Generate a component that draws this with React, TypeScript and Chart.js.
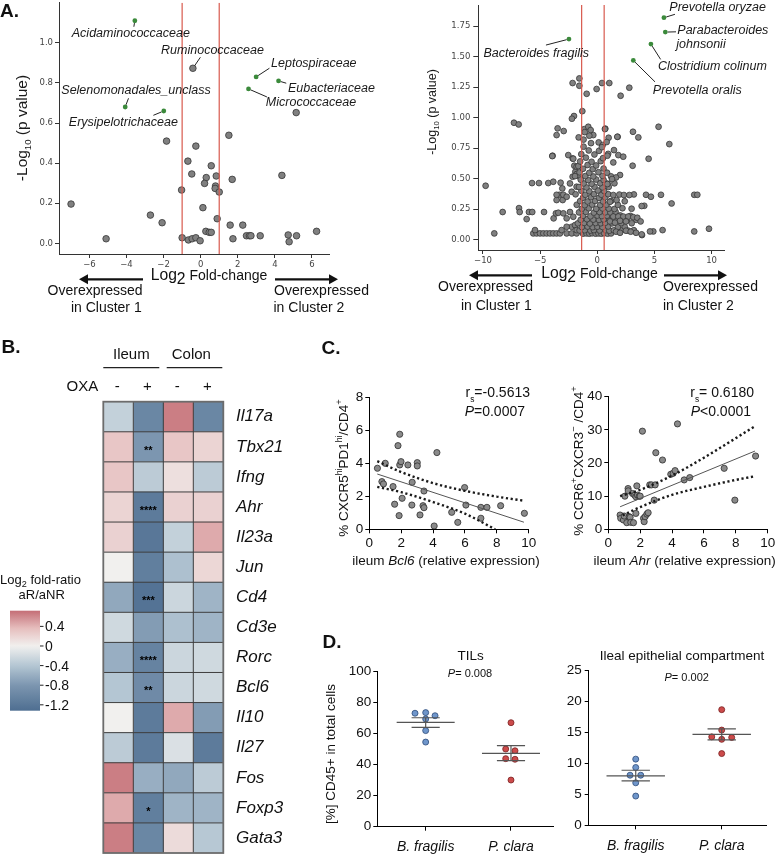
import React, { useEffect, useRef } from 'react';
import { Chart, registerables } from 'chart.js';

Chart.register(...registerables);

const SANS = '"Liberation Sans", Arial, Helvetica, sans-serif';
const DJV = '"DejaVu Sans", Verdana, sans-serif';
const INK = '#111111';
const RED = '#d85a4e';
const GREEN = '#3b8a3b';
const GRAYPT = '#808080';

// ================= Panel A, left volcano =================
const vlGray = [
  [5.15, 0.652], [1.52, 0.539], [-1.84, 0.51], [-0.26, 0.485], [-0.69, 0.41], [0.57, 0.387], [-0.48, 0.346],
  [4.38, 0.339], [0.30, 0.328], [0.84, 0.336], [1.70, 0.319], [0.21, 0.299], [0.80, 0.286], [0.78, 0.274],
  [-1.03, 0.266], [1.00, 0.256], [-6.99, 0.196], [0.12, 0.178], [-2.71, 0.141], [0.89, 0.123], [-2.08, 0.103],
  [1.59, 0.091], [2.27, 0.091], [0.28, 0.06], [0.46, 0.055], [0.57, 0.055], [6.25, 0.06], [2.47, 0.038],
  [2.63, 0.038], [2.71, 0.038], [3.21, 0.038], [4.72, 0.042], [5.17, 0.038], [-5.10, 0.023], [-1.00, 0.028],
  [-0.66, 0.017], [-0.46, 0.023], [-0.26, 0.028], [-0.03, 0.013], [1.74, 0.023], [4.77, 0.008],
];
const vlLabName = ['Acidaminococcaceae', 'Ruminococcaceae', 'Leptospiraceae', 'Eubacteriaceae', 'Micrococcaceae', 'Selenomonadales_unclass', 'Erysipelotrichaceae'];
const vlLabX = [-3.55, -0.42, 2.99, 4.20, 2.58, -4.07, -1.99];
const vlLabY = [1.11, 0.873, 0.83, 0.81, 0.77, 0.68, 0.66];
const vlLabSig = [true, false, true, true, true, true, true];
const vlThresholds = [-1, 1];
const vlXTicks = [-6, -4, -2, 0, 2, 4, 6];
const vlYTicks = [0, 0.2, 0.4, 0.6, 0.8, 1.0];

// ================= Panel A, right volcano =================
const vrGray = [
  // sparse points and outliers
  [-9.77, 0.442], [-9.01, 0.052], [-8.28, 0.227], [-7.29, 0.958], [-6.88, 0.944], [-6.85, 0.259], [-6.79, 0.227],
  [-6.18, 0.169], [-5.98, 0.227], [-5.69, 0.227], [-5.71, 0.464], [-5.10, 0.464], [-4.66, 0.227], [-4.29, 0.464],
  [-3.85, 0.475], [-3.91, 0.688], [-3.47, 0.912], [-3.56, 0.857], [-2.94, 0.890], [-2.54, 0.693], [-2.16, 0.666],
  [-2.16, 1.283], [-2.04, 1.013], [-2.22, 0.991], [-1.57, 1.321], [-1.57, 1.261], [-1.31, 1.053], [-0.93, 1.195],
  [-0.06, 1.234], [0.41, 1.283], [1.05, 1.283], [2.80, 1.245], [2.04, 1.179], [5.36, 0.925], [6.30, 0.783],
  [4.49, 0.663], [3.12, 0.884], [3.59, 0.838], [3.09, 0.606], [5.57, 0.368], [6.50, 0.297], [8.48, 0.368],
  [8.75, 0.368], [9.77, 0.090], [8.48, 0.068], [5.71, 0.079], [4.90, 0.068], [4.61, 0.068], [3.91, 0.038],
  [4.11, 0.278], [4.26, 0.368], [4.69, 0.352],
  // bottom row, left side
  [-5.60, 0.052], [-5.31, 0.052], [-5.01, 0.052], [-4.72, 0.052], [-4.43, 0.052], [-4.14, 0.052], [-3.85, 0.052],
  [-3.56, 0.052], [-3.27, 0.052], [-2.68, 0.052], [-2.24, 0.052], [-1.81, 0.052], [-5.45, 0.079],
  // left of the centre
  [-3.82, 0.175], [-3.62, 0.216], [-3.41, 0.221], [-3.56, 0.325], [-3.32, 0.368], [-3.03, 0.325], [-2.97, 0.368],
  [-3.56, 0.368], [-3.21, 0.467], [-3.06, 0.420], [-2.68, 0.352], [-2.39, 0.461], [-2.24, 0.393], [-2.16, 0.516],
  [-2.01, 0.606], [-1.92, 0.557], [-1.81, 0.434], [-2.97, 0.216], [-2.68, 0.175], [-2.39, 0.227], [-2.10, 0.188],
  [-2.24, 0.106], [-2.68, 0.106], [-1.95, 0.120], [-1.81, 0.079], [-3.12, 0.079],
  // upper centre
  [-1.14, 0.906], [-0.79, 0.925], [-0.58, 0.898], [-1.63, 0.838], [-1.20, 0.82], [-0.35, 0.857], [0.12, 0.797],
  [0.47, 0.775], [0.70, 0.91], [0.99, 0.835], [1.78, 0.843], [-3.94, 0.685], [-2.10, 0.663], [-1.81, 0.598],
  [-1.81, 0.538], [-1.66, 0.603], [-1.52, 0.516], [-1.95, 0.521],
  // dense centre
  [-1.25, 0.05], [-0.95, 0.052], [-0.7, 0.05], [-0.45, 0.053], [-0.15, 0.05], [0.1, 0.052], [0.35, 0.05], [0.6, 0.053], [0.9, 0.05], [1.2, 0.052],
  [-1.55, 0.076], [-1.1, 0.078], [-0.6, 0.075], [-0.3, 0.079], [0.2, 0.076], [0.75, 0.078], [1.05, 0.074], [1.45, 0.077], [2.15, 0.079], [2.7, 0.075], [3.2, 0.078],
  [-1.35, 0.104], [-0.85, 0.108], [-0.4, 0.103], [0.0, 0.107], [0.45, 0.105], [0.95, 0.109], [1.8, 0.104], [2.4, 0.106],
  [-1.7, 0.134], [-1.15, 0.138], [-0.65, 0.133], [-0.15, 0.137], [0.3, 0.135], [0.7, 0.139], [1.3, 0.134], [2.1, 0.136],
  [-1.45, 0.163], [-0.9, 0.168], [-0.35, 0.165], [0.15, 0.162], [0.55, 0.167], [1.05, 0.164], [1.7, 0.169], [2.6, 0.166], [3.4, 0.163],
  [-1.25, 0.196], [-0.6, 0.192], [0.0, 0.198], [0.4, 0.194], [0.85, 0.197], [1.35, 0.193], [2.0, 0.199], [2.9, 0.195],
  [-1.6, 0.224], [-1.0, 0.228], [-0.3, 0.222], [0.2, 0.227], [0.7, 0.225], [1.15, 0.223], [1.6, 0.229],
  [-1.35, 0.254], [-0.75, 0.258], [-0.1, 0.253], [0.45, 0.257], [1.0, 0.255], [1.5, 0.252], [2.2, 0.258], [3.0, 0.254],
  [-1.8, 0.286], [-1.1, 0.283], [-0.45, 0.288], [0.25, 0.284], [0.8, 0.287], [1.8, 0.285],
  [-1.5, 0.316], [-0.85, 0.313], [-0.2, 0.318], [0.5, 0.314], [1.2, 0.317], [2.4, 0.315],
  [-1.25, 0.344], [-0.55, 0.348], [0.15, 0.343], [0.7, 0.347],
  [-1.9, 0.372], [-1.05, 0.368], [-0.3, 0.374], [0.35, 0.369], [0.95, 0.373], [3.2, 0.371],
  [-1.4, 0.401], [-0.7, 0.397], [0.05, 0.403], [0.6, 0.399],
  [-1.6, 0.432], [-0.95, 0.428], [-0.25, 0.434], [0.45, 0.429], [1.0, 0.433],
  [-1.2, 0.461], [-0.5, 0.458], [0.25, 0.463], [0.9, 0.459], [1.5, 0.462],
  [-1.45, 0.492], [-0.8, 0.488], [-0.1, 0.493], [0.55, 0.489],
  [-1.05, 0.521], [-0.35, 0.518], [0.45, 0.523], [1.2, 0.519],
  [-1.55, 0.552], [-0.7, 0.548], [0.1, 0.553], [0.85, 0.549],
  [-1.25, 0.581], [-0.4, 0.578], [0.55, 0.583],
  [-0.85, 0.612], [-0.1, 0.608],
  [-1.5, 0.641], [-0.5, 0.638], [0.3, 0.643],
  [-1.0, 0.672], [0.5, 0.668],
  [-1.4, 0.701], [-0.25, 0.698], [0.95, 0.703],
  [-0.75, 0.731], [0.15, 0.728],
  [-1.2, 0.762], [0.4, 0.758],
  [-0.55, 0.791], [-0.7, 0.852], [-1.1, 0.881],
  // right of the centre
  [0.67, 0.906], [0.82, 0.80], [1.75, 0.843], [1.46, 0.734], [1.84, 0.693], [2.27, 0.68], [0.88, 0.688],
  [1.40, 0.633], [1.99, 0.53], [1.64, 0.51], [1.29, 0.497], [0.88, 0.456], [1.40, 0.366], [1.93, 0.37],
  [2.33, 0.366], [2.80, 0.366], [1.69, 0.325], [1.11, 0.311], [1.40, 0.19], [1.84, 0.19], [2.28, 0.19],
  [2.71, 0.19], [3.15, 0.185], [3.50, 0.18], [1.11, 0.15], [1.55, 0.14], [1.99, 0.155], [2.51, 0.15],
  [3.01, 0.135], [3.79, 0.15], [1.64, 0.066], [1.99, 0.057], [2.51, 0.074], [2.92, 0.066], [3.39, 0.057],
  [3.88, 0.044], [3.88, 0.276],
];
const vrLabName = ['Prevotella oryzae', 'Parabacteroides johnsonii', 'Bacteroides fragilis', 'Clostridium colinum', 'Prevotella oralis'];
const vrLabX = [5.83, 5.95, -2.48, 4.69, 3.15];
const vrLabY = [1.818, 1.700, 1.643, 1.602, 1.468];
const vrThresholds = [-1.37, 0.6];
const vrXTicks = [-10, -5, 0, 5, 10];
const vrYTicks = [0, 0.25, 0.5, 0.75, 1.0, 1.25, 1.5, 1.75];

// ================= Panel B, heatmap =================
const genes = ['Il17a', 'Tbx21', 'Ifng', 'Ahr', 'Il23a', 'Jun', 'Cd4', 'Cd3e', 'Rorc', 'Bcl6', 'Il10', 'Il27', 'Fos', 'Foxp3', 'Gata3'];
const tissues = ['Ileum', 'Colon'];
const oxa = ['-', '+', '-', '+'];
// columns: Ileum OXA-, Ileum OXA+, Colon OXA-, Colon OXA+
const hmValues = [
  [-0.3, -1.0, 0.65, -1.0],
  [0.3, -0.8, 0.3, 0.2],
  [0.3, -0.35, 0.12, -0.35],
  [0.2, -1.15, 0.22, 0.22],
  [0.22, -1.2, -0.3, 0.45],
  [0.0, -1.1, -0.45, 0.18],
  [-0.65, -1.25, -0.25, -0.55],
  [-0.22, -0.75, -0.45, -0.55],
  [-0.6, -1.05, -0.25, -0.22],
  [-0.4, -0.95, -0.25, -0.22],
  [0.0, -1.15, 0.45, -0.75],
  [-0.35, -1.15, -0.15, -1.15],
  [0.65, -0.6, -0.65, -0.35],
  [0.45, -1.1, -0.55, -0.55],
  [0.65, -1.0, 0.15, -0.38],
];
const hmStarsIleumOxa = ['', '**', '', '****', '', '', '***', '', '****', '**', '', '', '', '*', ''];
const cbTicks = [0.4, 0, -0.4, -0.8, -1.2];
const cbRange = [-1.32, 0.72];

// ================= Panel C =================
const bcl6X = [0.51, 0.79, 0.89, 1.00, 1.49, 1.59, 1.80, 1.91, 1.91, 1.99, 2.06, 1.87, 2.42, 2.69, 2.67, 3.01, 3.01, 3.18, 3.37, 3.43, 3.43, 4.24, 4.07, 5.17, 5.55, 5.98, 6.06, 7.0, 7.38, 7.0, 8.24, 9.73];
const tfhY = [3.70, 2.89, 2.75, 4.00, 2.59, 1.52, 5.07, 5.76, 3.90, 4.10, 1.88, 0.83, 3.90, 2.85, 1.47, 4.04, 3.84, 0.87, 1.43, 1.31, 2.32, 4.65, 0.20, 1.03, 0.42, 2.53, 1.47, 1.33, 1.33, 0.67, 1.43, 0.97];
const bcl6FitX = [0.5, 9.7];
const bcl6FitY = [3.35, 0.43];
const bcl6UpX = [0.5, 2, 4, 6, 8, 9.7];
const bcl6UpY = [4.13, 3.47, 2.80, 2.33, 1.98, 1.73];
const bcl6LoX = [0.5, 2, 4, 6, 7.9];
const bcl6LoY = [2.57, 2.25, 1.65, 0.95, 0.0];

const ahrX = [0.74, 0.78, 0.95, 1.04, 1.00, 1.16, 1.24, 1.25, 1.31, 1.37, 1.41, 1.52, 1.58, 1.66, 1.73, 1.73, 1.79, 1.83, 1.94, 2.00, 2.14, 2.21, 2.25, 2.31, 2.42, 2.50, 2.60, 2.71, 2.88, 2.94, 2.98, 3.40, 3.92, 4.07, 4.19, 4.34, 4.76, 5.11, 7.27, 7.94, 9.24];
const th17Y = [4.3, 3.3, 2.8, 10.0, 4.0, 2.0, 12.3, 11.6, 3.8, 3.6, 2.1, 10.8, 2.0, 10.3, 9.8, 4.8, 13.1, 10.3, 10.0, 10.0, 29.6, 3.3, 2.3, 3.8, 4.6, 5.0, 13.4, 13.4, 8.8, 13.4, 23.1, 20.9, 16.6, 16.9, 17.7, 31.8, 14.9, 15.6, 18.4, 8.8, 22.1];
const ahrFitX = [0.74, 9.2];
const ahrFitY = [6.8, 23.6];
const ahrUpX = [0.74, 2, 4, 6, 8, 9.2];
const ahrUpY = [10.0, 11.9, 16.2, 21.6, 27.5, 31.1];
const ahrLoX = [0.9, 2, 4, 6, 8, 9.2];
const ahrLoY = [4.2, 6.7, 10.4, 12.8, 14.9, 16.0];

// ================= Panel D =================
const dCats = ['B. fragilis', 'P. clara'];
const tilBf = [73.2, 73.6, 71.6, 69.5, 62.0, 54.6];
const tilPc = [67.1, 50.1, 49.0, 43.9, 43.5, 30.1];
const tilMean = [67.3, 47.3];
const tilSemHi = [70.3, 52.3];
const tilSemLo = [64.1, 42.6];
const iecBf = [10.7, 9.35, 8.1, 8.1, 6.87, 4.73];
const iecPc = [18.7, 15.4, 14.3, 14.2, 13.9, 11.6];
const iecMean = [8.0, 14.7];
const iecSemHi = [8.9, 15.6];
const iecSemLo = [7.2, 13.8];

// ================= layout helpers =================
const R_VL = { x: 0, y: 0, w: 390, h: 320 };
const A_VL = { l: 59, t: 2.7, r: 329, b: 254 };
const R_VR = { x: 390, y: 0, w: 386, h: 320 };
const A_VR = { l: 478.3, t: 5, r: 724.3, b: 250 };
const R_HM = { x: 0, y: 320, w: 300, h: 535 };
const A_HM = { l: 103.3, t: 401.7, r: 223.3, b: 853 };
const R_SL = { x: 300, y: 330, w: 245, h: 240 };
const A_SL = { l: 369.3, t: 397.3, r: 528.7, b: 529.3 };
const R_SR = { x: 545, y: 330, w: 231, h: 240 };
const A_SR = { l: 608.3, t: 396.7, r: 767.7, b: 529.3 };
const R_DL = { x: 300, y: 620, w: 265, h: 235 };
const A_DL = { l: 377.3, t: 671.7, r: 553.3, b: 826.7 };
const R_DR = { x: 565, y: 620, w: 211, h: 235 };
const A_DR = { l: 588.7, t: 670.7, r: 766, b: 825.3 };

function pad(c: any, a: any, yW: number, xH: number, yRight = false) {
  return {
    left: a.l - c.x - (yRight ? 0 : yW),
    right: c.x + c.w - a.r - (yRight ? yW : 0),
    top: a.t - c.y,
    bottom: c.y + c.h - a.b - xH,
  };
}
const fixSize = (size: number) => (s: any) => {
  if (s.isHorizontal()) s.height = size; else s.width = size;
  s.paddingTop = 0; s.paddingBottom = 0; s.paddingLeft = 0; s.paddingRight = 0;
};

function baseOptions(padding: any) {
  return {
    responsive: false,
    maintainAspectRatio: false,
    animation: false,
    events: [],
    layout: { padding, autoPadding: false },
    plugins: { legend: { display: false }, tooltip: { enabled: false }, title: { display: false } },
  };
}

function axis(o: any) {
  return {
    type: 'linear',
    position: o.position,
    min: o.min,
    max: o.max,
    afterBuildTicks: (s: any) => { s.ticks = o.ticks.map((v: number) => ({ value: v })); },
    afterFit: fixSize(o.size),
    grid: { drawOnChartArea: false, drawTicks: true, tickLength: o.tickLen, color: o.line || '#000', lineWidth: 1 },
    border: { display: true, color: o.line || '#000', width: 1 },
    ticks: {
      autoSkip: false, maxRotation: 0, minRotation: 0,
      padding: o.pad,
      color: o.color || INK,
      font: o.font,
      callback: o.fmt || ((v: number) => String(v)),
    },
  };
}

type Seg = { t: string; it?: boolean; b?: boolean; sz?: number; dy?: number };
function rich(ctx: any, segs: Seg[], x: number, y: number, size: number, o: any = {}) {
  const fam = o.family || SANS;
  const font = (s: Seg) => `${s.it ? 'italic ' : ''}${s.b ? 'bold ' : ''}${(size * (s.sz || 1)).toFixed(2)}px ${fam}`;
  ctx.save();
  ctx.translate(x, y);
  if (o.rot) ctx.rotate(-Math.PI / 2);
  let total = 0;
  const widths = segs.map((s) => { ctx.font = font(s); const w = ctx.measureText(s.t).width; total += w; return w; });
  let cx = o.align === 'center' ? -total / 2 : o.align === 'right' ? -total : 0;
  ctx.fillStyle = o.color || INK;
  ctx.textAlign = 'left';
  ctx.textBaseline = 'alphabetic';
  const base = size * 0.36;
  segs.forEach((s, i) => { ctx.font = font(s); ctx.fillText(s.t, cx, base + (s.dy || 0) * size); cx += widths[i]; });
  ctx.restore();
}

function arrow(ctx: any, x1: number, x2: number, y: number) {
  const dir = Math.sign(x2 - x1);
  const hl = 9, hw = 5;
  ctx.save();
  ctx.strokeStyle = INK; ctx.fillStyle = INK; ctx.lineWidth = 2.3;
  ctx.beginPath(); ctx.moveTo(x1, y); ctx.lineTo(x2 - dir * hl, y); ctx.stroke();
  ctx.beginPath(); ctx.moveTo(x2, y); ctx.lineTo(x2 - dir * hl, y - hw); ctx.lineTo(x2 - dir * hl, y + hw); ctx.closePath(); ctx.fill();
  ctx.restore();
}

function leader(ctx: any, px: number, py: number, lx: number, ly: number, r: number) {
  const dx = lx - px, dy = ly - py; const d = Math.hypot(dx, dy) || 1;
  ctx.save(); ctx.strokeStyle = '#222'; ctx.lineWidth = 1;
  ctx.beginPath(); ctx.moveTo(px + (dx / d) * r, py + (dy / d) * r); ctx.lineTo(lx, ly); ctx.stroke();
  ctx.restore();
}

const pts = (xs: number[], ys: number[]) => xs.map((x, i) => ({ x, y: ys[i] }));
const pairs = (arr: number[][]) => arr.map(([x, y]) => ({ x, y }));

const volTickFont = { family: DJV, size: 8.5 };
const fmtMinus = (v: number) => (v < 0 ? '\u2212' + Math.abs(v) : String(v));

// ================= label layout (pixel offsets from the labelled point) =================
const vlLabLayout = [
  { tdx: -4, tdy: 12, ldx: -1, ldy: 6 },
  { tdx: 19.6, tdy: -18.3, ldx: 7.5, ldy: -11 },
  { tdx: 57.7, tdy: -14.3, ldx: 13.3, ldy: -8.7 },
  { tdx: 52.9, tdy: 6.7, ldx: 7.7, ldy: 2.3 },
  { tdx: 62.5, tdy: 12.3, ldx: 18.4, ldy: 8 },
  { tdx: 10.8, tdy: -17.7, ldx: 3.3, ldy: -8.7 },
  { tdx: -40.4, tdy: 10.3, ldx: -10.4, ldy: 4.3 },
];
const vrLabLayout = [
  { tdx: 53.7, tdy: -11.7, ldx: 11, ldy: -3.4 },
  { tdx: 12, tdy: -2.7, ldx: 10.7, ldy: -0.3, split: true },
  { tdx: -32.7, tdy: 13.3, ldx: -23, ldy: 6 },
  { tdx: 61.5, tdy: 21.7, ldx: 9.7, ldy: 15.3 },
  { tdx: 64, tdy: 29, ldx: 21.7, ldy: 21.4 },
];

// ================= chart builders =================
function buildVolcano(side: 'L' | 'R') {
  const L = side === 'L';
  const R = L ? R_VL : R_VR;
  const A = L ? A_VL : A_VR;
  const xr = L ? [-7.64, 6.92] : [-10.41, 11.11];
  const yr = L ? [-0.053, 1.2] : [-0.084, 1.922];
  const names = L ? vlLabName : vrLabName;
  const lx = L ? vlLabX : vrLabX;
  const ly = L ? vlLabY : vrLabY;
  const sig = L ? vlLabSig : names.map(() => true);
  const lay: any[] = L ? vlLabLayout : vrLabLayout;
  const thr = L ? vlThresholds : vrThresholds;
  const grayR = L ? 3.3 : 2.9;
  const sigIdx = names.map((_, i) => i).filter((i) => sig[i]);
  const nonSigIdx = names.map((_, i) => i).filter((i) => !sig[i]);
  const gray = [...pairs(L ? vlGray : vrGray), ...nonSigIdx.map((i) => ({ x: lx[i], y: ly[i] }))];

  const ann = {
    id: 'volAnn' + side,
    afterDraw(chart: any) {
      const ctx = chart.ctx; const xs = chart.scales.x; const ys = chart.scales.y;
      ctx.save();
      ctx.translate(-R.x, -R.y);
      names.forEach((name, i) => {
        const px = xs.getPixelForValue(lx[i]) + R.x;
        const py = ys.getPixelForValue(ly[i]) + R.y;
        const g = lay[i];
        leader(ctx, px, py, px + g.ldx, py + g.ldy, sig[i] ? 2.4 : grayR);
        if (g.split) {
          const parts = name.split(' ');
          rich(ctx, [{ t: parts[0], it: true }], px + g.tdx, py + g.tdy, 12.5, { align: 'left', color: '#1a1a1a' });
          rich(ctx, [{ t: parts[1], it: true }], px + g.tdx - 1, py + g.tdy + 14, 12.5, { align: 'left', color: '#1a1a1a' });
        } else {
          rich(ctx, [{ t: name, it: true }], px + g.tdx, py + g.tdy, 12.5, { align: 'center', color: '#1a1a1a' });
        }
      });
      if (L) {
        rich(ctx, [{ t: 'A.', b: true }], 0, 10, 19, { align: 'left' });
        rich(ctx, [{ t: '-Log' }, { t: '10', sz: 0.62, dy: 0.22 }, { t: ' (p value)' }], 21.7, 128, 15.5, { align: 'center', rot: true, color: '#1a1a1a' });
        rich(ctx, [{ t: 'Log', sz: 1.12 }, { t: '2', sz: 1.12, dy: 0.3 }, { t: ' Fold-change' }], 209, 275, 14, { align: 'center' });
        arrow(ctx, 143, 79, 279.3);
        arrow(ctx, 275, 338, 279.3);
        rich(ctx, [{ t: 'Overexpressed' }], 142.5, 290, 14, { align: 'right' });
        rich(ctx, [{ t: 'in Cluster 1' }], 141.7, 306.7, 14, { align: 'right' });
        rich(ctx, [{ t: 'Overexpressed' }], 274, 290, 14, { align: 'left' });
        rich(ctx, [{ t: 'in Cluster 2' }], 273.5, 306.7, 14, { align: 'left' });
      } else {
        rich(ctx, [{ t: '-Log' }, { t: '10', sz: 0.62, dy: 0.22 }, { t: ' (p value)' }], 431.7, 112, 12.5, { align: 'center', rot: true, color: '#1a1a1a' });
        rich(ctx, [{ t: 'Log', sz: 1.12 }, { t: '2', sz: 1.12, dy: 0.3 }, { t: ' Fold-change' }], 599.5, 273, 14, { align: 'center' });
        arrow(ctx, 532, 469, 275.3);
        arrow(ctx, 664, 727, 275.3);
        rich(ctx, [{ t: 'Overexpressed' }], 533, 286, 14, { align: 'right' });
        rich(ctx, [{ t: 'in Cluster 1' }], 531.7, 304.7, 14, { align: 'right' });
        rich(ctx, [{ t: 'Overexpressed' }], 663, 286, 14, { align: 'left' });
        rich(ctx, [{ t: 'in Cluster 2' }], 663, 304.7, 14, { align: 'left' });
      }
      ctx.restore();
    },
  };

  return {
    type: 'scatter',
    data: {
      datasets: [
        ...thr.map((t) => ({ data: [{ x: t, y: yr[0] }, { x: t, y: yr[1] }], showLine: true, borderColor: RED, borderWidth: 1.2, pointRadius: 0 })),
        { data: sigIdx.map((i) => ({ x: lx[i], y: ly[i] })), pointRadius: 2.4, pointBackgroundColor: GREEN, pointBorderColor: GREEN, pointBorderWidth: 0 },
        { data: gray, pointRadius: grayR, pointBackgroundColor: GRAYPT, pointBorderColor: '#363636', pointBorderWidth: 0.8 },
      ],
    },
    options: {
      ...baseOptions(pad(R, A, 45, 30)),
      scales: {
        x: axis({ position: 'bottom', min: xr[0], max: xr[1], ticks: L ? vlXTicks : vrXTicks, size: 30, tickLen: 4, pad: 1.5, font: volTickFont, color: '#444', line: '#333', fmt: fmtMinus }),
        y: axis({ position: 'left', min: yr[0], max: yr[1], ticks: L ? vlYTicks : vrYTicks, size: 45, tickLen: L ? 4 : 5, pad: L ? 2 : 3, font: volTickFont, color: '#444', line: '#333', fmt: (v: number) => v.toFixed(L ? 1 : 2) }),
      },
    },
    plugins: [ann],
  };
}

const heatStops: [number, number[]][] = [
  [-1.32, [78, 110, 145]],
  [-0.8, [124, 150, 176]],
  [-0.4, [180, 198, 211]],
  [0, [241, 240, 238]],
  [0.36, [230, 190, 190]],
  [0.72, [196, 110, 118]],
];
function heatColor(v: number) {
  const c = Math.max(heatStops[0][0], Math.min(heatStops[heatStops.length - 1][0], v));
  for (let i = 0; i < heatStops.length - 1; i++) {
    const [a, ca] = heatStops[i]; const [b, cb] = heatStops[i + 1];
    if (c >= a && c <= b) {
      const f = (c - a) / (b - a);
      const m = ca.map((q, k) => Math.round(q + (cb[k] - q) * f));
      return `rgb(${m[0]},${m[1]},${m[2]})`;
    }
  }
  return 'rgb(241,240,238)';
}

function buildHeatmap() {
  const R = R_HM;
  const ann = {
    id: 'hmAnn',
    afterDraw(chart: any) {
      const ctx = chart.ctx; const xs = chart.scales.x; const ys = chart.scales.y;
      const X = (v: number) => xs.getPixelForValue(v) + R.x;
      const top = chart.chartArea.top + R.y, bottom = chart.chartArea.bottom + R.y;
      const rowH = (bottom - top) / genes.length;
      ctx.save();
      ctx.translate(-R.x, -R.y);
      ctx.strokeStyle = '#3e3e3e'; ctx.lineWidth = 1;
      ctx.beginPath();
      for (let c = 1; c < 4; c++) { ctx.moveTo(X(c), top); ctx.lineTo(X(c), bottom); }
      for (let r = 1; r < genes.length; r++) {
        const y = ys.getPixelForValue(r) + R.y - rowH / 2;
        ctx.moveTo(X(0), y); ctx.lineTo(X(4), y);
      }
      ctx.stroke();
      ctx.strokeStyle = '#6c6c6c'; ctx.lineWidth = 1.8;
      ctx.strokeRect(X(0), top, X(4) - X(0), bottom - top);
      hmStarsIleumOxa.forEach((s, r) => {
        if (!s) return;
        const y = ys.getPixelForValue(r) + R.y;
        rich(ctx, [{ t: s, b: true }], (X(1) + X(2)) / 2, y + 3, 11, { align: 'center', color: '#000' });
      });
      tissues.forEach((t, k) => {
        const a = X(2 * k), b = X(2 * k + 2);
        rich(ctx, [{ t }], (a + b) / 2 - 2, 353.3, 15, { align: 'center' });
        ctx.strokeStyle = '#222'; ctx.lineWidth = 1.3;
        ctx.beginPath();
        ctx.moveTo(a + (k === 0 ? 0 : 3.4), 367.7); ctx.lineTo(b - (k === 0 ? 4 : 1), 367.7);
        ctx.stroke();
      });
      rich(ctx, [{ t: 'OXA' }], 98.3, 386, 15, { align: 'right' });
      oxa.forEach((s, c) => rich(ctx, [{ t: s }], (X(c) + X(c + 1)) / 2 - 1, 386, 15, { align: 'center' }));
      const cbL = 10, cbR = 40, cbT = 610.7, cbB = 710.7;
      const vy = (v: number) => cbT + ((cbRange[1] - v) / (cbRange[1] - cbRange[0])) * (cbB - cbT);
      const grad = ctx.createLinearGradient(0, cbT, 0, cbB);
      for (let k = 0; k <= 40; k++) {
        const v = cbRange[1] - (k / 40) * (cbRange[1] - cbRange[0]);
        grad.addColorStop(k / 40, heatColor(v));
      }
      ctx.fillStyle = grad;
      ctx.fillRect(cbL, cbT, cbR - cbL, cbB - cbT);
      ctx.strokeStyle = '#222'; ctx.lineWidth = 1;
      cbTicks.forEach((v) => {
        const y = vy(v);
        ctx.beginPath(); ctx.moveTo(cbR, y); ctx.lineTo(cbR + 3.5, y); ctx.stroke();
        rich(ctx, [{ t: v === 0 ? '0' : String(v) }], cbR + 5, y, 14, { align: 'left' });
      });
      rich(ctx, [{ t: 'Log' }, { t: '2', sz: 0.7, dy: 0.25 }, { t: ' fold-ratio' }], 40.5, 579.3, 13, { align: 'center' });
      rich(ctx, [{ t: 'aR/aNR' }], 41.7, 594.3, 13, { align: 'center' });
      rich(ctx, [{ t: 'B.', b: true }], 1.5, 346.5, 19, { align: 'left' });
      ctx.restore();
    },
  };
  return {
    type: 'bar',
    data: {
      labels: genes,
      datasets: [0, 1, 2, 3].map((c) => ({
        data: genes.map(() => [c, c + 1]),
        backgroundColor: genes.map((_, r) => heatColor(hmValues[r][c])),
        borderWidth: 0,
        barPercentage: 1,
        categoryPercentage: 1,
        grouped: false,
      })),
    },
    options: {
      ...baseOptions(pad(R, A_HM, 70, 0, true)),
      indexAxis: 'y',
      scales: {
        x: { type: 'linear', min: 0, max: 4, display: false },
        y: {
          type: 'category', position: 'right',
          afterFit: fixSize(70),
          grid: { display: false, drawTicks: false },
          border: { display: false },
          ticks: { padding: 12.7, color: INK, font: { family: SANS, size: 17, style: 'italic' }, autoSkip: false },
        },
      },
    },
    plugins: [ann],
  };
}

const cFont = { family: SANS, size: 13.5 };

function buildCorr(side: 'L' | 'R') {
  const L = side === 'L';
  const R = L ? R_SL : R_SR;
  const A = L ? A_SL : A_SR;
  const ann = {
    id: 'corrAnn' + side,
    afterDraw(chart: any) {
      const ctx = chart.ctx;
      ctx.save();
      ctx.translate(-R.x, -R.y);
      if (L) {
        rich(ctx, [{ t: 'C.', b: true }], 321.5, 346.7, 19, { align: 'left' });
        rich(ctx, [{ t: 'r' }, { t: 's', sz: 0.6, dy: 0.3 }, { t: '=-0.5613' }], 530, 392.3, 14, { align: 'right' });
        rich(ctx, [{ t: 'P', it: true }, { t: '=0.0007' }], 525, 411, 14, { align: 'right' });
        rich(ctx, [{ t: 'ileum ' }, { t: 'Bcl6', it: true }, { t: ' (relative expression)' }], 446, 560, 13.5, { align: 'center' });
        rich(ctx, [{ t: '% CXCR5' }, { t: 'hi', sz: 0.65, dy: -0.42 }, { t: 'PD1' }, { t: 'hi', sz: 0.65, dy: -0.42 }, { t: '/CD4' }, { t: '+', sz: 0.7, dy: -0.45 }], 343.3, 468, 13.5, { align: 'center', rot: true });
      } else {
        rich(ctx, [{ t: 'r' }, { t: 's', sz: 0.6, dy: 0.3 }, { t: '= 0.6180' }], 754, 392.3, 14, { align: 'right' });
        rich(ctx, [{ t: 'P', it: true }, { t: '<0.0001' }], 751, 411, 14, { align: 'right' });
        rich(ctx, [{ t: 'ileum ' }, { t: 'Ahr', it: true }, { t: ' (relative expression)' }], 684.7, 560, 13.5, { align: 'center' });
        rich(ctx, [{ t: '% CCR6' }, { t: '+', sz: 0.7, dy: -0.45 }, { t: 'CXCR3' }, { t: '\u2212', sz: 0.7, dy: -0.45 }, { t: ' /CD4' }, { t: '+', sz: 0.7, dy: -0.45 }], 578, 461, 13.5, { align: 'center', rot: true });
      }
      ctx.restore();
    },
  };
  const fitX = L ? bcl6FitX : ahrFitX, fitY = L ? bcl6FitY : ahrFitY;
  const upX = L ? bcl6UpX : ahrUpX, upY = L ? bcl6UpY : ahrUpY;
  const loX = L ? bcl6LoX : ahrLoX, loY = L ? bcl6LoY : ahrLoY;
  const dotted = { showLine: true, borderColor: '#1a1a1a', borderWidth: 2.4, borderDash: [2.2, 2.6], pointRadius: 0, cubicInterpolationMode: 'monotone' };
  return {
    type: 'scatter',
    data: {
      datasets: [
        { data: pts(fitX, fitY), showLine: true, borderColor: '#555', borderWidth: 1, pointRadius: 0 },
        { ...dotted, data: pts(upX, upY) },
        { ...dotted, data: pts(loX, loY) },
        { data: L ? pts(bcl6X, tfhY) : pts(ahrX, th17Y), pointRadius: 3.1, pointBackgroundColor: '#8a8a8a', pointBorderColor: '#2e2e2e', pointBorderWidth: 0.8 },
      ],
    },
    options: {
      ...baseOptions(pad(R, A, 30, 25)),
      scales: {
        x: axis({ position: 'bottom', min: 0, max: 10, ticks: [0, 2, 4, 6, 8, 10], size: 25, tickLen: 4, pad: 2, font: cFont }),
        y: axis({ position: 'left', min: 0, max: L ? 8 : 40, ticks: L ? [0, 2, 4, 6, 8] : [0, 10, 20, 30, 40], size: 30, tickLen: 4, pad: 2, font: cFont }),
      },
    },
    plugins: [ann],
  };
}

function buildDots(side: 'L' | 'R') {
  const L = side === 'L';
  const R = L ? R_DL : R_DR;
  const A = L ? A_DL : A_DR;
  const xr = L ? [-0.567, 1.496] : [-0.547, 1.515];
  const bf = L ? tilBf : iecBf, pc = L ? tilPc : iecPc;
  const bfJit = L ? [-0.125, 0, 0.11, 0, 0, 0] : [0, 0, -0.066, 0.058, 0, 0];
  const pcJit = L ? [0, -0.062, 0.047, -0.062, 0.047, 0] : [0, 0, -0.116, 0.116, 0, 0];
  const mean = L ? tilMean : iecMean, hi = L ? tilSemHi : iecSemHi, lo = L ? tilSemLo : iecSemLo;
  const line = { showLine: true, borderColor: '#555', borderWidth: 1.2, pointRadius: 0 };
  const lineSets: any[] = [];
  [0, 1].forEach((c) => {
    lineSets.push({ ...line, data: [{ x: c - 0.34, y: mean[c] }, { x: c + 0.34, y: mean[c] }] });
    lineSets.push({ ...line, data: [{ x: c - 0.165, y: hi[c] }, { x: c + 0.165, y: hi[c] }] });
    lineSets.push({ ...line, data: [{ x: c - 0.165, y: lo[c] }, { x: c + 0.165, y: lo[c] }] });
    lineSets.push({ ...line, data: [{ x: c, y: lo[c] }, { x: c, y: hi[c] }] });
  });
  const ann = {
    id: 'dotAnn' + side,
    afterDraw(chart: any) {
      const ctx = chart.ctx;
      ctx.save();
      ctx.translate(-R.x, -R.y);
      if (L) {
        rich(ctx, [{ t: 'D.', b: true }], 322.5, 640.7, 19, { align: 'left' });
        rich(ctx, [{ t: 'TILs' }], 470.7, 655, 13.5, { align: 'center' });
        rich(ctx, [{ t: 'P', it: true }, { t: '= 0.008' }], 470, 673.3, 11, { align: 'center' });
        rich(ctx, [{ t: '[%] CD45+ in total cells' }], 330, 754, 13.5, { align: 'center', rot: true });
      } else {
        rich(ctx, [{ t: 'Ileal epithelial compartment' }], 682, 655, 13.5, { align: 'center' });
        rich(ctx, [{ t: 'P', it: true }, { t: '= 0.002' }], 686.7, 676.7, 11, { align: 'center' });
      }
      ctx.restore();
    },
  };
  return {
    type: 'scatter',
    data: {
      datasets: [
        ...lineSets,
        { data: bf.map((v, i) => ({ x: 0 + bfJit[i], y: v })), pointRadius: 3, pointBackgroundColor: '#6f96cb', pointBorderColor: '#2c4a78', pointBorderWidth: 0.8 },
        { data: pc.map((v, i) => ({ x: 1 + pcJit[i], y: v })), pointRadius: 3, pointBackgroundColor: '#cc4b4b', pointBorderColor: '#7a1f1f', pointBorderWidth: 0.8 },
      ],
    },
    options: {
      ...baseOptions(pad(R, A, 30, 28)),
      scales: {
        x: axis({ position: 'bottom', min: xr[0], max: xr[1], ticks: [0, 1], size: 28, tickLen: 4, pad: 8, font: { family: SANS, size: 14, style: 'italic' }, fmt: (v: number) => dCats[v] }),
        y: axis({ position: 'left', min: 0, max: L ? 100 : 25, ticks: L ? [0, 20, 40, 60, 80, 100] : [0, 5, 10, 15, 20, 25], size: 30, tickLen: 4, pad: L ? 2 : 3, font: cFont }),
      },
    },
    plugins: [ann],
  };
}

function ChartBox({ rect, build }: { rect: any; build: () => any }) {
  const ref = useRef<HTMLCanvasElement>(null);
  useEffect(() => {
    const chart = new Chart(ref.current as HTMLCanvasElement, build());
    return () => chart.destroy();
  }, []);
  return (
    <canvas
      ref={ref}
      width={rect.w}
      height={rect.h}
      style={{ position: 'absolute', left: rect.x, top: rect.y, width: rect.w, height: rect.h }}
    />
  );
}

export default function App() {
  return (
    <div style={{ position: 'absolute', left: 0, top: 0, width: 776, height: 855, overflow: 'hidden', background: '#ffffff' }}>
      <ChartBox rect={R_VL} build={() => buildVolcano('L')} />
      <ChartBox rect={R_VR} build={() => buildVolcano('R')} />
      <ChartBox rect={R_HM} build={buildHeatmap} />
      <ChartBox rect={R_SL} build={() => buildCorr('L')} />
      <ChartBox rect={R_SR} build={() => buildCorr('R')} />
      <ChartBox rect={R_DL} build={() => buildDots('L')} />
      <ChartBox rect={R_DR} build={() => buildDots('R')} />
    </div>
  );
}
